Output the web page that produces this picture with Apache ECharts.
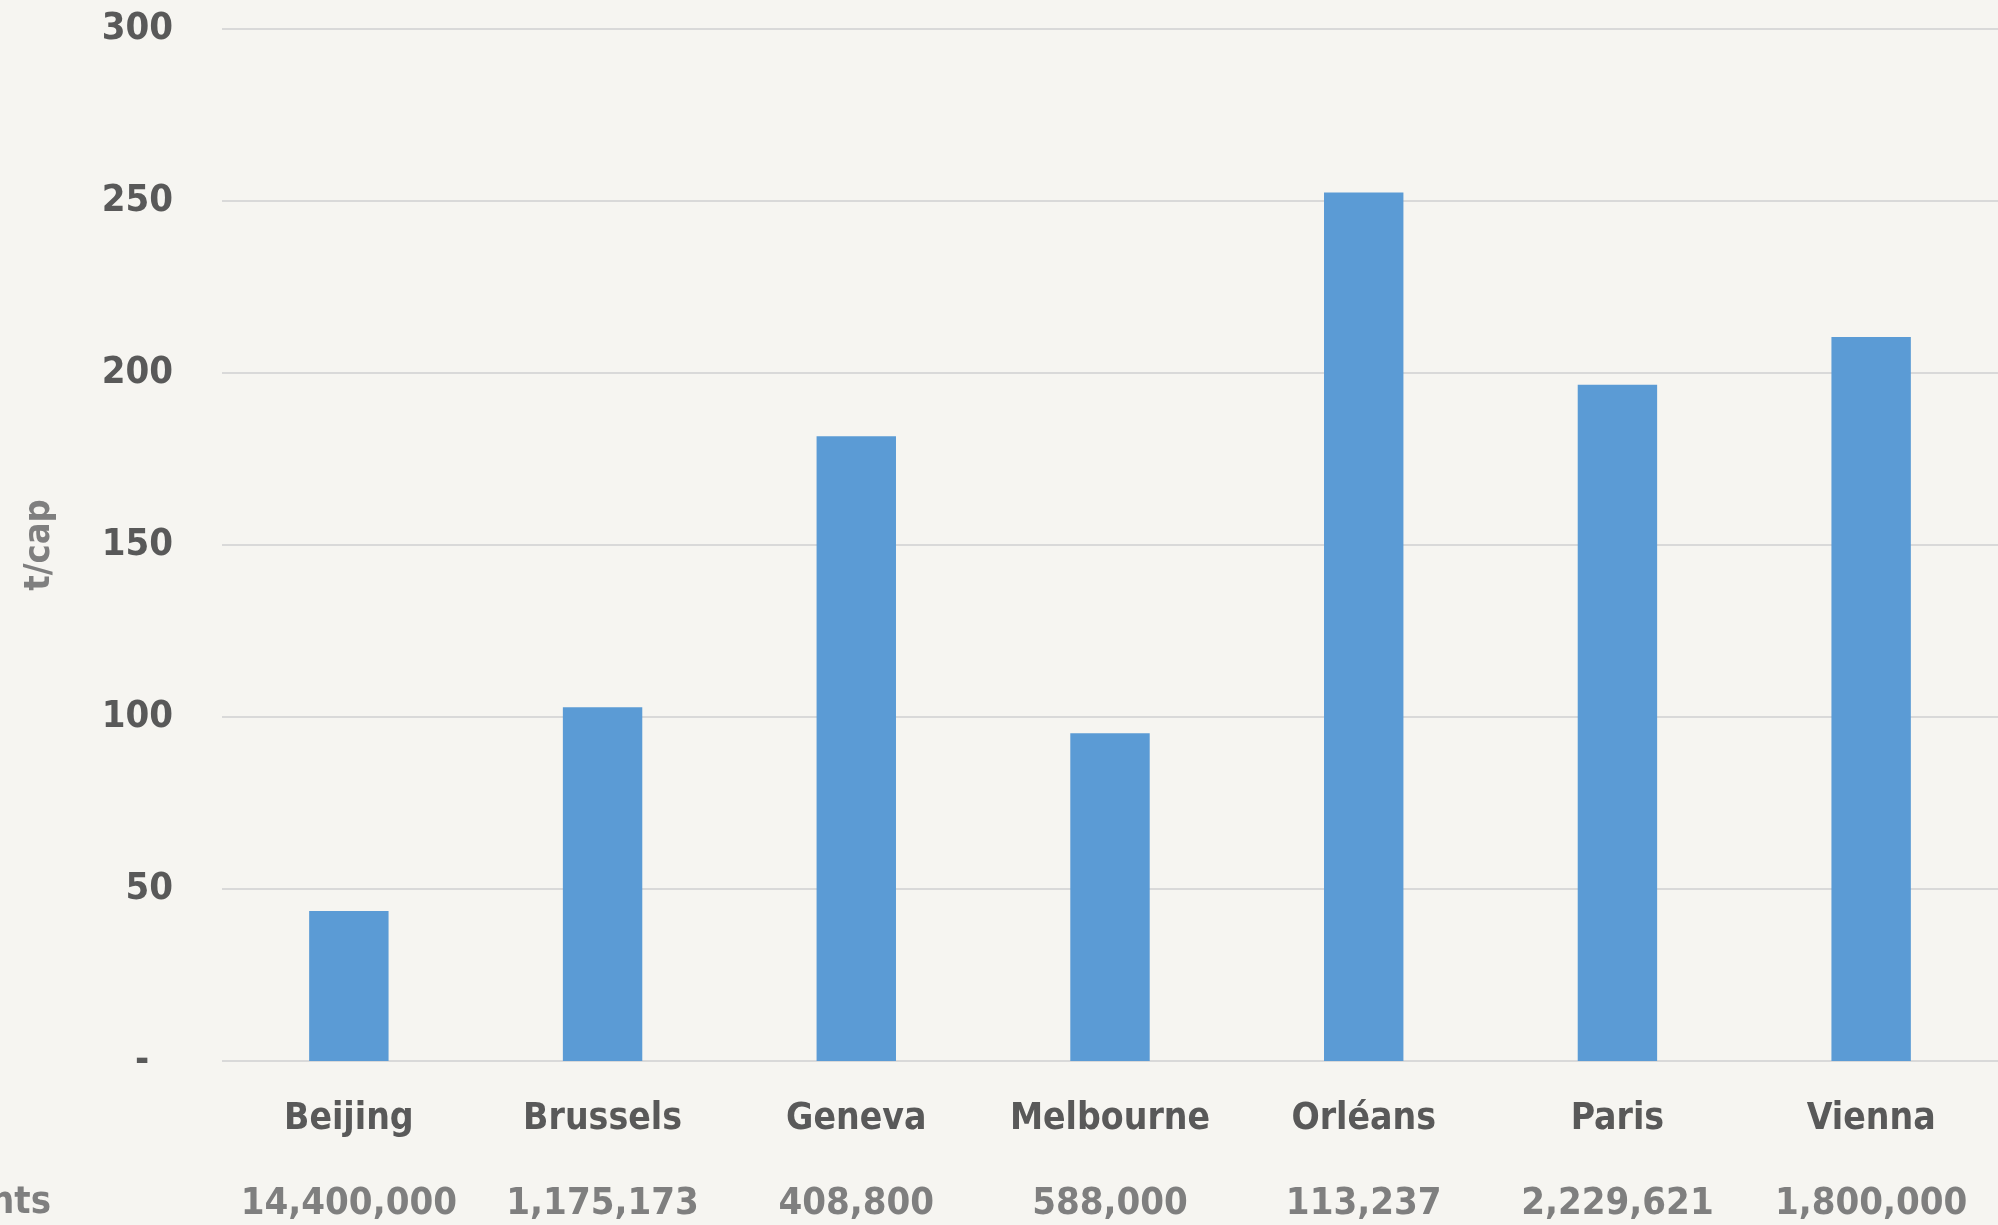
<!DOCTYPE html>
<html>
<head>
<meta charset="utf-8">
<script src="https://cdn.jsdelivr.net/npm/echarts@6/dist/echarts.min.js"></script>
<style>
  html, body { margin: 0; padding: 0; background: #f6f5f1; }
  #chart { width: 1998px; height: 1225px; }
</style>
</head>
<body>
<div id="chart"></div>
<script>
// data
const cities = ['Beijing', 'Brussels', 'Geneva', 'Melbourne', 'Orléans', 'Paris', 'Vienna']
const population = ['14,400,000', '1,175,173', '408,800', '588,000', '113,237', '2,229,621', '1,800,000']
const tPerCap = [43.6, 102.8, 181.6, 95.3, 252.5, 196.6, 210.5]
const rowTitle = 'Inhabitants'

const font = '"DejaVu Sans Condensed", "DejaVu Sans", sans-serif'

const chart = echarts.init(document.getElementById('chart'), null, { renderer: 'canvas' })

const option = {
  backgroundColor: '#f6f5f1',
  animation: false,
  grid: {
    left: 222,
    right: 0,
    top: 29,
    bottom: 164
  },
  xAxis: {
    type: 'category',
    data: cities,
    axisLine: { show: false },
    axisTick: { show: false },
    axisLabel: {
      margin: 16,
      interval: 0,
      formatter: function (value, idx) {
        return `{a|${value}}\n{b|${population[idx]}}`
      },
      rich: {
        a: {
          fontFamily: font,
          fontWeight: 'bold',
          fontSize: 37,
          color: '#595959',
          lineHeight: 85
        },
        b: {
          fontFamily: font,
          fontWeight: 'bold',
          fontSize: 38,
          color: '#7f7f7f',
          lineHeight: 85
        }
      }
    }
  },
  yAxis: {
    type: 'value',
    min: 0,
    max: 300,
    interval: 50,
    name: 't/cap',
    nameLocation: 'middle',
    nameGap: 164,
    nameTextStyle: {
      fontFamily: font,
      fontWeight: 'bold',
      fontSize: 36,
      color: '#7f7f7f'
    },
    axisLine: { show: false },
    axisTick: { show: false },
    axisLabel: {
      margin: 49,
      padding: [5, 0, 0, 0],
      fontFamily: font,
      fontWeight: 'bold',
      fontSize: 38,
      color: '#595959',
      formatter: v => (v === 0 ? '-  ' : String(v))
    },
    splitLine: {
      show: true,
      lineStyle: { color: '#d9d9d9', width: 2 }
    }
  },
  graphic: [
    {
      type: 'text',
      x: 51,
      y: 1203,
      style: {
        text: rowTitle,
        align: 'right',
        verticalAlign: 'middle',
        fontFamily: font,
        fontWeight: 'bold',
        fontSize: 38,
        fill: '#7f7f7f'
      }
    }
  ],
  series: [
    {
      type: 'bar',
      data: tPerCap,
      barWidth: '31.3%',
      itemStyle: { color: '#5b9bd5' },
      emphasis: { disabled: true }
    }
  ]
}

chart.setOption(option)
</script>
</body>
</html>
